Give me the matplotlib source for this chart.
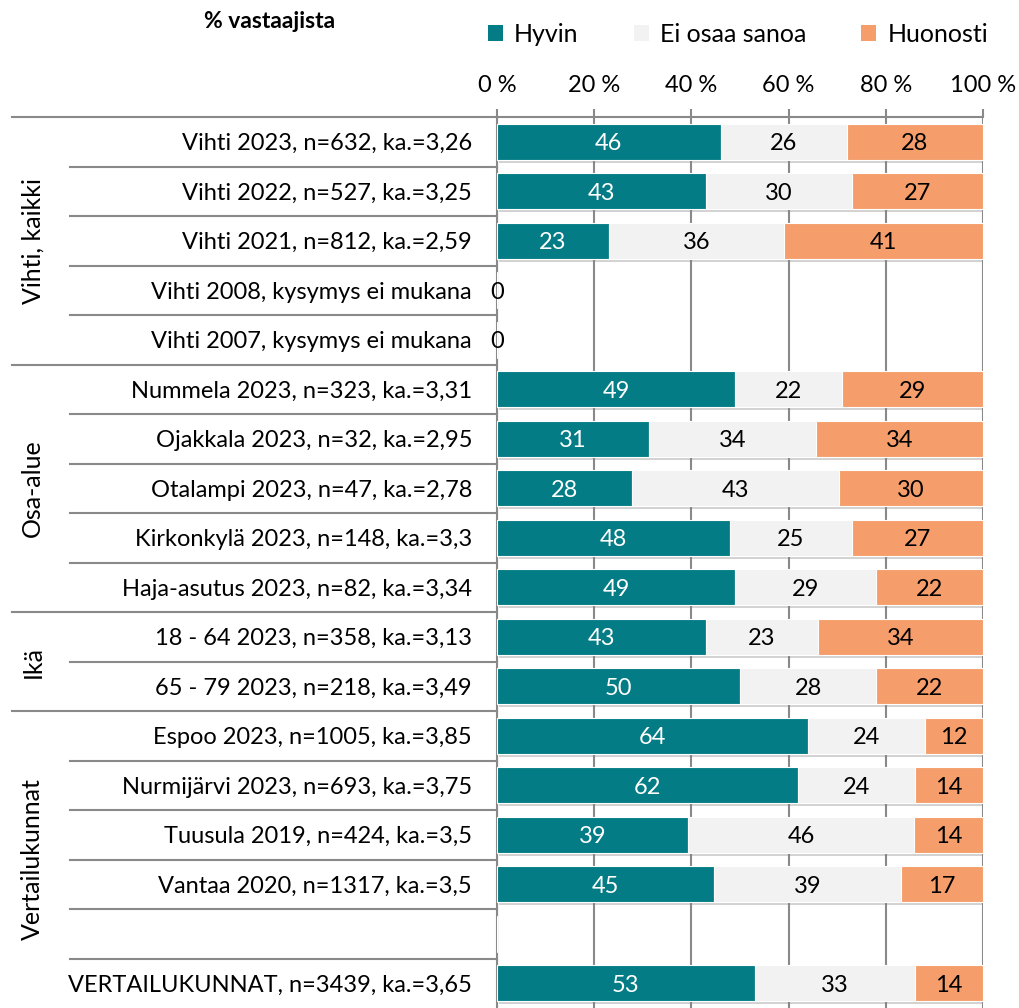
import numpy as np
import matplotlib
matplotlib.use("Agg")
import matplotlib.pyplot as plt
import matplotlib.patheffects as pe
from matplotlib.patches import Patch

plt.rcParams['font.family'] = ['Lato', 'DejaVu Sans']

labels = ["Vihti 2023, n=632, ka.=3,26", "Vihti 2022, n=527, ka.=3,25",
          "Vihti 2021, n=812, ka.=2,59", "Vihti 2008, kysymys ei mukana",
          "Vihti 2007, kysymys ei mukana", "Nummela 2023, n=323, ka.=3,31",
          "Ojakkala 2023, n=32, ka.=2,95", "Otalampi 2023, n=47, ka.=2,78",
          "Kirkonkylä 2023, n=148, ka.=3,3", "Haja-asutus 2023, n=82, ka.=3,34",
          "18 - 64 2023, n=358, ka.=3,13", "65 - 79 2023, n=218, ka.=3,49",
          "Espoo 2023, n=1005, ka.=3,85", "Nurmijärvi 2023, n=693, ka.=3,75",
          "Tuusula 2019, n=424, ka.=3,5", "Vantaa 2020, n=1317, ka.=3,5",
          "", "VERTAILUKUNNAT, n=3439, ka.=3,65"]
hyvin = [46, 43, 23, 0, 0, 49, 31, 28, 48, 49, 43, 50, 64, 62, 39, 45, 0, 53]
eos = [26, 30, 36, 0, 0, 22, 34, 43, 25, 29, 23, 28, 24, 24, 46, 39, 0, 33]
huonosti = [28, 27, 41, 0, 0, 29, 34, 30, 27, 22, 34, 22, 12, 14, 14, 17, 0, 14]
zero_rows = [3, 4]

groups = ["Vihti, kaikki", "Osa-alue", "Ikä", "Vertailukunnat"]
group_sizes = [5, 5, 2, 6]

series = ["Hyvin", "Ei osaa sanoa", "Huonosti"]
colors = ["#037C85", "#F2F2F2", "#F59E6B"]
txt_colors = ["white", "black", "black"]

FS = 17
W, H = 1019, 1008
fig = plt.figure(figsize=(W / 100, H / 100), dpi=100)
ax = fig.add_axes([497 / W, 0, 486 / W, 891 / H])

vals = np.array([hyvin, eos, huonosti], dtype=float)
tot = vals.sum(axis=0)
pct = np.divide(vals * 100, tot, out=np.zeros_like(vals), where=tot > 0)
y = np.arange(len(labels))

shadow = [pe.SimplePatchShadow(offset=(1.5, -2), shadow_rgbFace="#7f7f7f", alpha=0.35), pe.Normal()]
left = np.zeros(len(labels))
for i in range(3):
    bars = ax.barh(y, pct[i], left=left, height=0.73, color=colors[i],
                   edgecolor="white", linewidth=0.8, zorder=3)
    for b in bars:
        b.set_path_effects(shadow)
    for j in range(len(labels)):
        if vals[i, j] > 0:
            ax.text(left[j] + pct[i, j] / 2, y[j], "%d" % vals[i, j], ha="center",
                    va="center_baseline", color=txt_colors[i], fontsize=FS, zorder=5)
    left += pct[i]

for j in zero_rows:
    ax.text(0, y[j], "0", ha="center", va="center_baseline", fontsize=FS, zorder=5)

ax.set_xlim(0, 100)
ax.set_ylim(len(labels) - 0.5, -0.5)
ax.xaxis.tick_top()
ax.set_xticks(np.arange(0, 101, 20))
ax.set_xticklabels(["%d %%" % v for v in range(0, 101, 20)], fontsize=FS)
ax.tick_params(axis="x", length=6, width=1.5, color="#898989", pad=9)
ax.set_yticks(y)
ax.set_yticklabels(labels, fontsize=FS, va="center_baseline")
ax.tick_params(axis="y", length=0, pad=18)
ax.grid(axis="x", color="#898989", linewidth=1.5, zorder=0)
ax.set_axisbelow(True)
for s in ["right", "bottom"]:
    ax.spines[s].set_visible(False)
for s in ["top", "left"]:
    ax.spines[s].set_color("#898989")
    ax.spines[s].set_linewidth(1.5)

# row separators and group labels on the left
tr = ax.get_yaxis_transform()
start = 0
for g, n in zip(groups, group_sizes):
    ax.plot([-0.998, 0], [start - 0.5, start - 0.5], transform=tr, color="#898989",
            linewidth=1.5, clip_on=False)
    for k in range(1, n):
        ax.plot([-0.879, 0], [start + k - 0.5, start + k - 0.5], transform=tr,
                color="#898989", linewidth=1.5, clip_on=False)
    ax.text(-0.955, start + (n - 1) / 2, g, transform=tr, rotation=90, ha="center",
            va="center", fontsize=18)
    start += n

fig.text(270 / W, 1 - 22 / H, "% vastaajista", ha="center", va="center",
         fontsize=16.5, fontweight="bold")

handles = [Patch(facecolor=c, edgecolor="none") for c in colors]
fig.legend(handles, series, loc="center left", bbox_to_anchor=(488 / W, 1 - 34 / H),
           ncol=3, frameon=False, fontsize=18, handlelength=0.6, handleheight=0.6,
           handletextpad=0.45, columnspacing=2.2, borderpad=0, borderaxespad=0)

fig.savefig("out.png", dpi=100)
